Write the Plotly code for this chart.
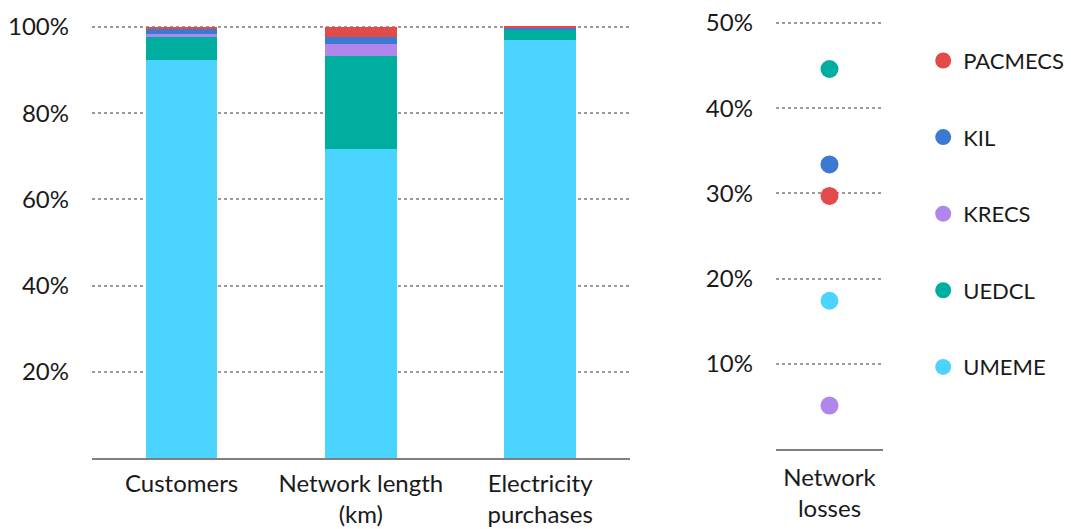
import plotly.graph_objects as go

categories = ["Customers", "Network length<br>(km)", "Electricity<br>purchases"]
companies = ["UMEME", "UEDCL", "KRECS", "KIL", "PACMECS"]
colors = {"UMEME": "#4AD4FF", "UEDCL": "#00AE9F", "KRECS": "#B085EC",
          "KIL": "#3C79D1", "PACMECS": "#E34B4B"}

umeme_share = [0.923, 0.717, 0.969]
uedcl_share = [0.054, 0.216, 0.024]
krecs_share = [0.007, 0.028, 0.001]
kil_share = [0.011, 0.015, 0.004]
pacmecs_share = [0.005, 0.024, 0.002]
shares = {"UMEME": umeme_share, "UEDCL": uedcl_share, "KRECS": krecs_share,
          "KIL": kil_share, "PACMECS": pacmecs_share}

loss_category = ["Network<br>losses"]
network_losses = {"UMEME": 0.174, "UEDCL": 0.446, "KRECS": 0.051,
                  "KIL": 0.334, "PACMECS": 0.297}

left_ticks = [0.2, 0.4, 0.6, 0.8, 1.0]
right_ticks = [0.1, 0.2, 0.3, 0.4, 0.5]

FONT = "Lato"
FS = 24
fig = go.Figure()

for c in companies:
    fig.add_trace(go.Bar(x=categories, y=shares[c], name=c, marker_color=colors[c],
                         marker_line_width=0, showlegend=False,
                         xaxis="x", yaxis="y"))

for c in reversed(companies):
    fig.add_trace(go.Scatter(x=loss_category, y=[network_losses[c]], name=c,
                             mode="markers", legendgroup=c,
                             marker=dict(color=colors[c], size=18),
                             xaxis="x2", yaxis="y2"))

grid = dict(showgrid=True, gridcolor="#9a9a9a", griddash="dot", gridwidth=2)

# left: 0 at y=458, 100% at y=27 -> extend range to 102% for visible top gridline
l0, l100 = 458, 27
ltop = 1.02
lpx = (l0 - l100) / 1.0
left_dom = [1 - l0 / 529, 1 - (l0 - lpx * ltop) / 529]
# right: 0 at y=449, 50% at y=23
r0, r50 = 449, 23
rtop = 0.51
rpx = (r0 - r50) / 0.5
right_dom = [1 - r0 / 529, 1 - (r0 - rpx * rtop) / 529]

fig.update_layout(
    width=1071, height=529,
    margin=dict(l=0, r=0, t=0, b=0, autoexpand=False),
    paper_bgcolor="white", plot_bgcolor="white",
    barmode="stack", bargap=0.6,
    font=dict(family=FONT, size=FS, color="#1a1a1a"),
    xaxis=dict(domain=[0.0859, 0.588], showline=True, linecolor="#808080", linewidth=2,
               ticks="", automargin=False, ticklabelstandoff=3,
               tickfont=dict(size=FS)),
    yaxis=dict(domain=left_dom, range=[0, ltop], tickvals=left_ticks,
               tickformat=".0%", zeroline=False, showline=False, ticks="",
               automargin=False, ticklabelstandoff=22, **grid),
    xaxis2=dict(domain=[0.7245, 0.8245], showline=True, linecolor="#808080", linewidth=2,
                ticks="", automargin=False, ticklabelstandoff=6, anchor="y2",
                tickfont=dict(size=FS)),
    yaxis2=dict(domain=right_dom, range=[0, rtop], tickvals=right_ticks,
                tickformat=".0%", zeroline=False, showline=False, ticks="",
                automargin=False, ticklabelstandoff=22, anchor="x2", **grid),
    legend=dict(x=0.862, y=0.925, xanchor="left", yanchor="top",
                font=dict(size=22), tracegroupgap=45, itemwidth=30,
                bgcolor="rgba(0,0,0,0)"),
)

fig.write_html("out.html")
